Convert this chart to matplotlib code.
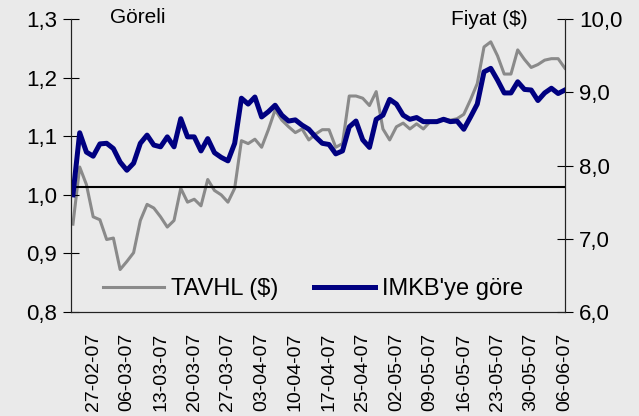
import numpy as np
import matplotlib
matplotlib.use("Agg")
import matplotlib.pyplot as plt
from matplotlib.ticker import FuncFormatter

# daily values, 74 trading days (22-02-07 .. 06-06-07)
imkb_rel = [1.000, 1.106, 1.073, 1.066, 1.087, 1.088, 1.079, 1.056, 1.042, 1.054,
            1.088, 1.102, 1.085, 1.082, 1.099, 1.082, 1.130, 1.099, 1.099, 1.075,
            1.096, 1.072, 1.064, 1.058, 1.088, 1.165, 1.155, 1.167, 1.133, 1.142,
            1.153, 1.136, 1.126, 1.128, 1.119, 1.112, 1.099, 1.088, 1.086, 1.070,
            1.075, 1.116, 1.126, 1.094, 1.081, 1.129, 1.136, 1.163, 1.155, 1.136,
            1.129, 1.132, 1.125, 1.125, 1.125, 1.129, 1.125, 1.126, 1.112, 1.133,
            1.155, 1.210, 1.216, 1.196, 1.174, 1.174, 1.193, 1.180, 1.179, 1.161,
            1.174, 1.182, 1.173, 1.179]

tavhl_usd = [7.20, 7.98, 7.74, 7.30, 7.26, 6.99, 7.01, 6.58, 6.69, 6.81,
             7.25, 7.47, 7.42, 7.30, 7.16, 7.25, 7.69, 7.50, 7.54, 7.45,
             7.81, 7.66, 7.60, 7.50, 7.69, 8.34, 8.30, 8.36, 8.25, 8.49,
             8.76, 8.62, 8.53, 8.45, 8.50, 8.35, 8.43, 8.49, 8.49, 8.25,
             8.30, 8.95, 8.95, 8.92, 8.82, 9.01, 8.50, 8.35, 8.53, 8.58,
             8.50, 8.57, 8.50, 8.60, 8.61, 8.64, 8.62, 8.64, 8.70, 8.90,
             9.12, 9.62, 9.69, 9.50, 9.25, 9.25, 9.58, 9.45, 9.34, 9.38,
             9.44, 9.46, 9.46, 9.33]

date_labels = ["27-02-07", "06-03-07", "13-03-07", "20-03-07", "27-03-07",
               "03-04-07", "10-04-07", "17-04-07", "25-04-07", "02-05-07",
               "09-05-07", "16-05-07", "23-05-07", "30-05-07", "06-06-07"]
label_pos = list(range(3, 74, 5))
tick_pos = [13, 43, 73]
ref_level = 1.013

plt.rcParams['font.family'] = ['Liberation Sans', 'DejaVu Sans']
bg = '#eaeaea'

fig = plt.figure(figsize=(6.39, 4.16), dpi=100, facecolor=bg)
ax = fig.add_axes([0.111, 0.25, 0.773, 0.704], facecolor=bg)
ax2 = ax.twinx()

x = np.arange(len(imkb_rel))

l1, = ax2.plot(x, tavhl_usd, color='#8a8a8a', lw=2.2, label='TAVHL ($)')
l2, = ax.plot(x, imkb_rel, color='#000080', lw=3.6, label="IMKB'ye göre")
ax.set_zorder(ax2.get_zorder() + 1)
ax.patch.set_visible(False)
ax.axhline(ref_level, color='black', lw=1.5, zorder=1)

ax.set_xlim(-0.3, 73)
ax.set_ylim(0.8, 1.3)
ax2.set_ylim(6.0, 10.0)
ax.set_yticks([0.8, 0.9, 1.0, 1.1, 1.2, 1.3])
ax2.set_yticks([6, 7, 8, 9, 10])
ax.yaxis.set_major_formatter(FuncFormatter(lambda v, p: f"{v:.1f}".replace('.', ',')))
ax2.yaxis.set_major_formatter(FuncFormatter(lambda v, p: f"{v:.1f}".replace('.', ',')))

ax.set_xticks(label_pos)
ax.set_xticklabels(date_labels, rotation=90, fontsize=14)
ax.set_xticks(tick_pos, minor=True)
ax.tick_params(axis='x', which='major', length=0, pad=15)
ax.tick_params(axis='x', which='minor', direction='inout', length=8.6, width=0.8)
ax.tick_params(axis='y', direction='inout', length=12, width=0.8, labelsize=16, pad=4)
ax2.tick_params(axis='y', direction='inout', length=12, width=0.8, labelsize=16, pad=4)

for a in (ax, ax2):
    a.spines['top'].set_visible(False)
    for s in ('left', 'right', 'bottom'):
        a.spines[s].set_linewidth(0.8)
        a.spines[s].set_color('#222222')

ax.text(0.08, 1.005, 'Göreli', transform=ax.transAxes, fontsize=15, va='center')
ax2.text(0.77, 1.0, 'Fiyat ($)', transform=ax.transAxes, fontsize=15, va='center')

ax.legend(handles=[l1, l2], loc='center', bbox_to_anchor=(0.49, 0.078), ncol=2,
          frameon=False, fontsize=17, handlelength=2.6, handletextpad=0.3,
          columnspacing=1.5, borderpad=0)

fig.savefig('out.png', dpi=100, facecolor=bg)
